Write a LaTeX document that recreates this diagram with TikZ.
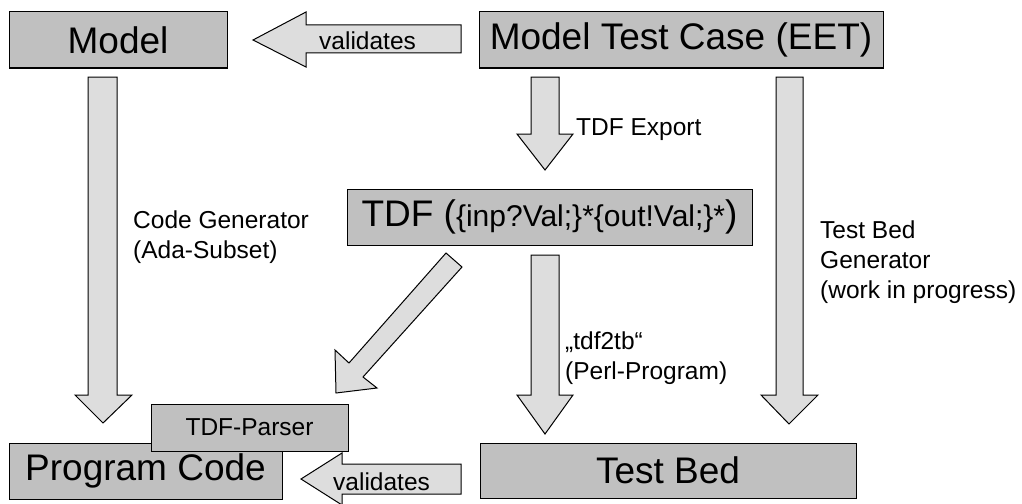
\documentclass[tikz,border=0pt]{standalone}
\usepackage{fontspec}
\setmainfont{Liberation Sans}
\definecolor{boxgray}{RGB}{192,192,192}
\definecolor{arrowgray}{RGB}{221,221,221}
\begin{document}
\begin{tikzpicture}[x=1pt,y=-1pt,
  box/.style={draw=black, fill=boxgray, line width=1pt, inner sep=0pt, font=\fontsize{37}{44}\selectfont},
  smallbox/.style={box, font=\fontsize{24.5}{30}\selectfont},
  barrow/.style={draw=black, fill=arrowgray, line width=1pt, line join=miter},
  lbl/.style={font=\fontsize{24.5}{30}\selectfont, inner sep=0pt, anchor=base west}]
\useasboundingbox (0,0) rectangle (1022,503);

% boxes
\node[box, minimum width=218pt, minimum height=56pt] (model) at (118,40) {Model};
\node[box, minimum width=404pt, minimum height=56pt] (mtc) at (681,40) {Model Test Case (EET)};
\node[box, minimum width=405pt, minimum height=56pt] (tdf) at (549.5,217)
  {TDF (\fontsize{30}{34}\selectfont\{inp?Val;\}*\{out!Val;\}*\fontsize{37}{44}\selectfont)};
\node[box, minimum width=273pt, minimum height=56pt] (prog) at (145.5,471) {Program Code};
\node[smallbox, minimum width=197pt, minimum height=47pt] (parser) at (249.5,427.5) {TDF-Parser};
\node[box, minimum width=376pt, minimum height=55pt] (testbed) at (668,470.5) {Test Bed};

% block arrows
\draw[barrow] (253,40) -- (306,12) -- (306,25) -- (461,25) -- (461,53) -- (306,53) -- (306,67) -- cycle;
\node[lbl] (val1) at (319,49) {validates};

\draw[barrow] (301,479) -- (342,453) -- (342,464) -- (461,464) -- (461,494) -- (342,494) -- (342,505) -- cycle;
\node[lbl] (val2) at (333,490) {validates};

\draw[barrow] (88,77) -- (117,77) -- (117,395) -- (132,395) -- (103,423) -- (75,395) -- (88,395) -- cycle;
\draw[barrow] (531,77) -- (559,77) -- (559,134) -- (573,134) -- (545,170) -- (517,134) -- (531,134) -- cycle;
\draw[barrow] (531,255) -- (559,255) -- (559,395) -- (573,395) -- (545,434) -- (517,395) -- (531,395) -- cycle;
\draw[barrow] (776,77) -- (803,77) -- (803,395) -- (818,395) -- (789,424) -- (761,395) -- (776,395) -- cycle;
\draw[barrow] (446,253) -- (462,267) -- (363,377) -- (377,388) -- (336,393) -- (335,350) -- (349,363) -- cycle;

% labels
\node[lbl] (lexport) at (576,135) {TDF Export};
\node[lbl] (lcodegen) at (133,228) {\begin{tabular}[t]{@{}l@{}}Code Generator\\(Ada-Subset)\end{tabular}};
\node[lbl] (ltdf2tb) at (565,349) {\begin{tabular}[t]{@{}l@{}}„tdf2tb“\\(Perl-Program)\end{tabular}};
\node[lbl] (ltbgen) at (820,238) {\begin{tabular}[t]{@{}l@{}}Test Bed\\Generator\\(work in progress)\end{tabular}};
\end{tikzpicture}
\end{document}
